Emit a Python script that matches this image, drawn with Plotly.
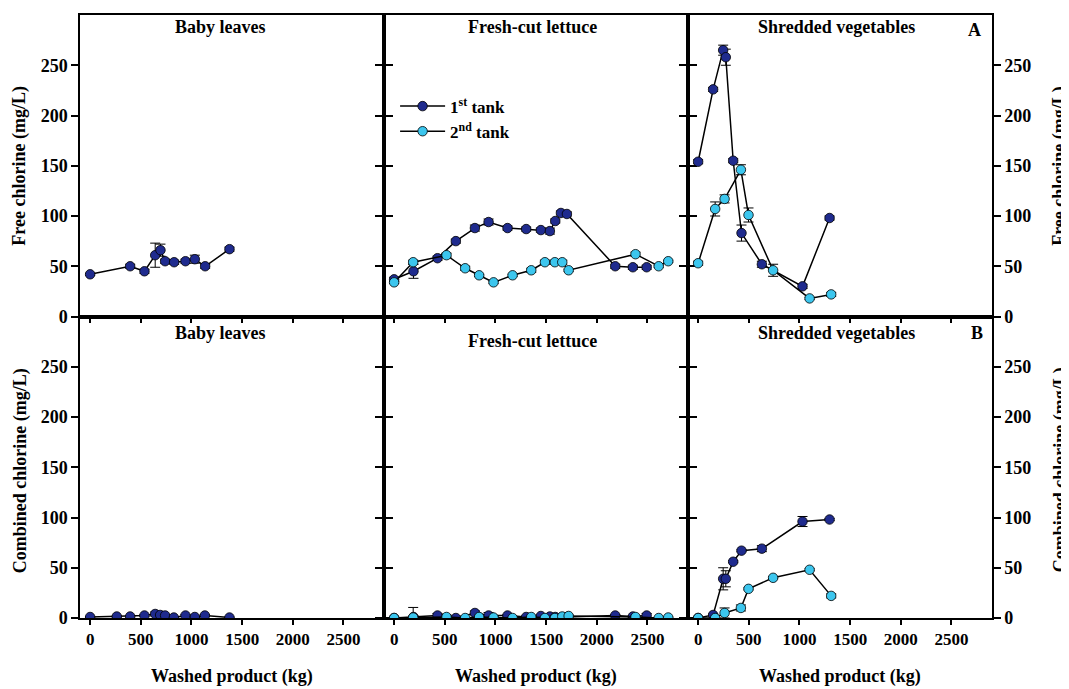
import plotly.graph_objects as go
from plotly.subplots import make_subplots

# ---------------- data ----------------
x_ticks = [0, 500, 1000, 1500, 2000, 2500]
y_ticks = [0, 50, 100, 150, 200, 250]

# Baby leaves (1st tank only)
bl_x_free = [0, 395, 536, 642, 694, 740, 829, 941, 1033, 1135, 1375]
bl_free = [42, 50, 45, 61, 66, 55, 54, 55, 57, 50, 67]
bl_free_err = [1, 2, 2, 12, 6, 2, 2, 2, 4, 2, 2]
bl_x_comb = [0, 263, 395, 536, 642, 691, 740, 826, 941, 1033, 1132, 1375]
bl_comb = [1, 1.5, 1.5, 2.5, 4, 3, 2.5, 0.5, 2.5, 1, 2.5, 0.5]
bl_comb_err = [0.5, 0.5, 0.5, 1, 2, 1, 1, 0.5, 1, 0.5, 1, 0.5]

# Fresh-cut lettuce
fc_x1 = [0, 191, 428, 609, 797, 932, 1119, 1303, 1448, 1537, 1590, 1646, 1705, 2182, 2356, 2492]
fc_free1 = [37, 45, 58, 75, 88, 94, 88, 87, 86, 85, 95, 103, 102, 50, 49, 49]
fc_free1_err = [2, 7, 2, 2, 3, 3, 2, 2, 2, 3, 2, 2, 2, 2, 2, 2]
fc_comb1 = [0, 1, 2.5, 0, 5, 2.5, 2.5, 1, 2, 1.5, 1, 0.5, 1, 2.5, 1.5, 2.5]
fc_comb1_err = [0, 1, 2, 2, 2, 3, 1, 1, 1, 1, 1, 1, 1, 1, 1, 2]
fc_x2 = [0, 188, 517, 701, 839, 981, 1169, 1353, 1488, 1586, 1659, 1722, 2382, 2611, 2705]
fc_free2 = [34, 54, 61, 48, 41, 34, 41, 46, 54, 54, 54, 46, 62, 50, 55]
fc_free2_err = [1, 2, 2, 2, 1, 1, 1, 2, 2, 2, 2, 1, 2, 1, 1]
fc_comb2 = [0, 0.5, 1, 0, 1, 0.5, 0, 1, 0, 0, 1.5, 2, 1, 0, 0.5]
fc_comb2_err = [0, 10, 2, 0.5, 1, 1, 0.5, 1, 0.5, 0.5, 1, 1, 1, 0.5, 0.5]

# Shredded vegetables
sv_x1 = [0, 148, 247, 273, 346, 428, 629, 1030, 1297]
sv_free1 = [154, 226, 265, 258, 155, 83, 52, 30, 98]
sv_free1_err = [2, 2, 5, 8, 2, 8, 3, 2, 2]
sv_comb1 = [0, 3, 39, 39, 56, 67, 69, 96, 98]
sv_comb1_err = [0, 1, 11, 8, 1, 1, 3, 5, 1]
sv_x2 = [0, 168, 261, 422, 497, 740, 1100, 1313]
sv_free2 = [53, 107, 117, 146, 101, 46, 18, 22]
sv_free2_err = [2, 7, 4, 5, 7, 6, 1, 2]
sv_comb2 = [0, 0, 5, 10, 29, 40, 48, 22]
sv_comb2_err = [0, 0, 5, 3, 1, 1, 1, 2]

panel_titles = ["Baby leaves", "Fresh-cut lettuce", "Shredded vegetables"]
series_names = ["1<sup>st</sup> tank", "2<sup>nd</sup> tank"]

# ---------------- style ----------------
DARK = "#1f2b8e"
LIGHT = "#3cc6ee"
FONT = "Liberation Serif"

fig = make_subplots(rows=2, cols=3, horizontal_spacing=0, vertical_spacing=0)


def add(x, y, err, color, row, col, name, showlegend=False):
    fig.add_trace(go.Scatter(
        x=x, y=y, mode="lines+markers", name=name, showlegend=showlegend,
        line=dict(color="black", width=1.5),
        marker=dict(color=color, size=9.5, line=dict(color="black", width=0.8)),
        error_y=dict(type="data", array=err, visible=True, color="black",
                     thickness=1, width=5),
    ), row=row, col=col)


# Baby leaves
add(bl_x_free, bl_free, bl_free_err, DARK, 1, 1, series_names[0])
add(bl_x_comb, bl_comb, bl_comb_err, DARK, 2, 1, series_names[0])
# Fresh-cut lettuce
add(fc_x1, fc_free1, fc_free1_err, DARK, 1, 2, series_names[0], True)
add(fc_x2, fc_free2, fc_free2_err, LIGHT, 1, 2, series_names[1], True)
add(fc_x1, fc_comb1, fc_comb1_err, DARK, 2, 2, series_names[0])
add(fc_x2, fc_comb2, fc_comb2_err, LIGHT, 2, 2, series_names[1])
# Shredded vegetables
add(sv_x1, sv_free1, sv_free1_err, DARK, 1, 3, series_names[0])
add(sv_x2, sv_free2, sv_free2_err, LIGHT, 1, 3, series_names[1])
add(sv_x1, sv_comb1, sv_comb1_err, DARK, 2, 3, series_names[0])
add(sv_x2, sv_comb2, sv_comb2_err, LIGHT, 2, 3, series_names[1])

xtickfont = dict(family=FONT, size=17, color="black", weight="bold")
ytickfont = dict(family=FONT, size=18, color="black", weight="bold")

for r in (1, 2):
    for c in (1, 2, 3):
        fig.update_xaxes(
            row=r, col=c, range=[-100, 2900], tickvals=x_ticks,
            showticklabels=(r == 2), ticks="outside", ticklen=5, tickwidth=1.5,
            tickcolor="black", showline=True, linecolor="black", linewidth=1.5,
            mirror=True, showgrid=False, zeroline=False, tickfont=xtickfont,
        )
        fig.update_yaxes(
            row=r, col=c, range=[0, 300], tickvals=y_ticks,
            showticklabels=(c != 2), side=("right" if c == 3 else "left"),
            ticks="outside", ticklen=7, tickwidth=1.5, tickcolor="black",
            showline=True, linecolor="black", linewidth=1.5, mirror="ticks",
            showgrid=False, zeroline=False, tickfont=ytickfont,
        )

annots = []
title_font = dict(family=FONT, size=18, color="black")


def note(text, x, y, font, angle=0):
    annots.append(dict(text="<b>%s</b>" % text, x=x, y=y, xref="paper", yref="paper",
                       showarrow=False, font=font, textangle=angle,
                       xanchor="center", yanchor="middle"))


# panel titles
top_x = [0.1546, 0.4967, 0.829]
for i, t in enumerate(panel_titles):
    note(t, top_x[i], 0.980, title_font)
bot_y = [0.473, 0.4595, 0.472]
for i, t in enumerate(panel_titles):
    note(t, top_x[i], bot_y[i], title_font)
# panel letters
note("A", 0.981, 0.975, title_font)
note("B", 0.984, 0.473, title_font)
# axis titles
ylab_font = dict(family=FONT, size=18, color="black")
for xp in (-0.0658, 1.0746):
    note("Free chlorine (mg/L)", xp, 0.75, ylab_font, -90)
    note("Combined chlorine (mg/L)", xp, 0.245, ylab_font, -90)
for xp in (1 / 6, 0.5, 5 / 6):
    note("Washed product (kg)", xp, -0.0975, ylab_font)

fig.update_layout(
    width=1061, height=681,
    margin=dict(l=72, r=77, t=5, b=71),
    paper_bgcolor="white", plot_bgcolor="white",
    font=dict(family=FONT, color="black"),
    annotations=annots,
    legend=dict(x=0.3455, y=0.878, xanchor="left", yanchor="top", itemwidth=45,
                bgcolor="rgba(0,0,0,0)", font=dict(family=FONT, size=17, color="black", weight="bold"),
                tracegroupgap=0),
)

fig.write_html("out.html")
